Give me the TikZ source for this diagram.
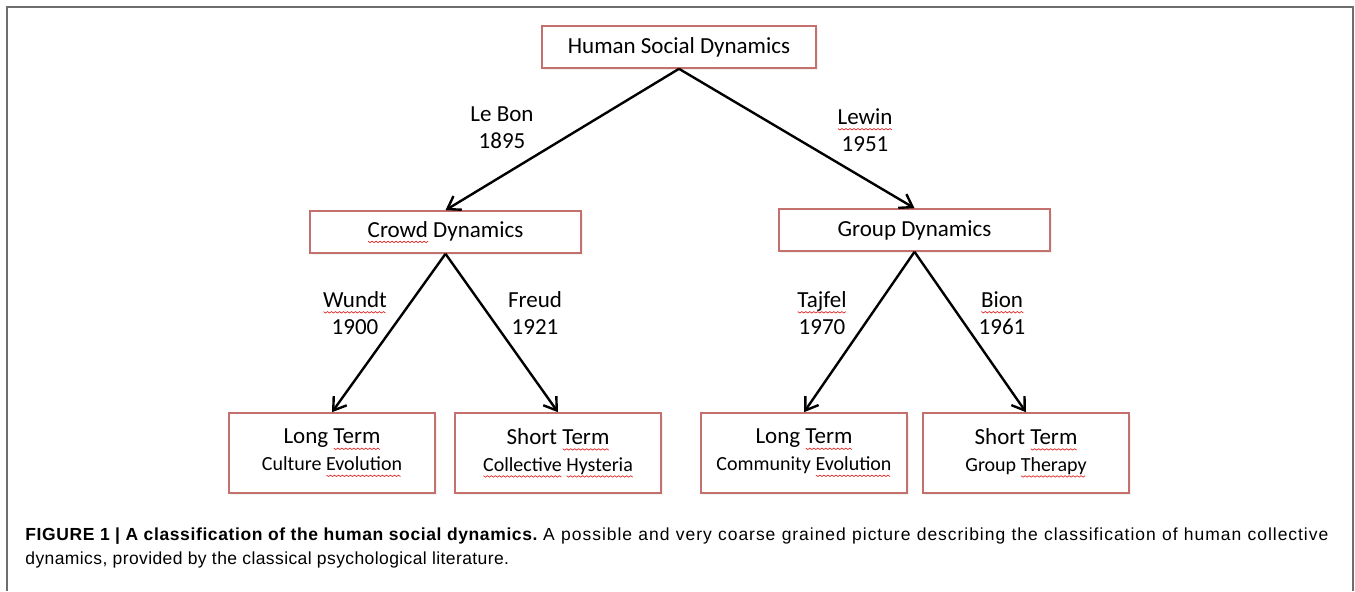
\documentclass[tikz,border=0pt]{standalone}
\usepackage{fontspec}
\setmainfont{Carlito}
\newfontfamily\capfont{Liberation Sans}[LetterSpace=2.3]
\usetikzlibrary{arrows.meta,shadows}
\definecolor{boxred}{RGB}{196,112,108}
\definecolor{framegray}{RGB}{110,110,110}
\definecolor{spellred}{RGB}{225,40,40}
% red wavy line under a word
\newsavebox\sqbox
\newcount\sqn
\newcount\sqi
\newcommand\sq[1]{\sbox\sqbox{#1}\leavevmode\rlap{\pgfpicture\pgfsetbaseline{0pt}%
    \pgfsetcolor{spellred}\pgfsetlinewidth{0.35pt}%
    \sqn=\wd\sqbox \divide\sqn by 65536 \sqi=0
    \pgfpathmoveto{\pgfpoint{0pt}{-2.1pt}}%
    \loop\ifnum\sqi<\sqn \advance\sqi by 1
        \ifodd\sqi \pgfpathlineto{\pgfpoint{\the\sqi pt}{-2.8pt}}\else \pgfpathlineto{\pgfpoint{\the\sqi pt}{-2.1pt}}\fi
    \repeat
    \pgfusepath{stroke}\endpgfpicture}\usebox\sqbox}
\newcommand\subfont{\fontsize{10}{12.5}\selectfont}
\begin{document}
\begin{tikzpicture}[x=0.5pt,y=-0.5pt,
        box/.style={draw=boxred,line width=0.8pt,fill=white,minimum width=135.5pt,minimum height=21pt,
            inner sep=0pt,font=\fontsize{11.5}{13.5}\selectfont,drop shadow={opacity=0.12,shadow xshift=1pt,shadow yshift=-1pt}},
        leaf/.style={box,minimum width=103pt,minimum height=40pt,align=center},
        who/.style={align=center,font=\fontsize{11.5}{13.5}\selectfont},
        link/.style={-{Straight Barb[length=6pt,width=8pt]},line width=1.2pt}]
        \useasboundingbox (0,0) rectangle (1355,591);
        \draw[framegray,line width=1pt] (7,591) |- (1353,7) -- (1353,591);

        \node[box,minimum width=137pt] (hsd) at (679,47) {Human Social Dynamics};
        \node[box] (crowd) at (445.5,232) {\sq{Crowd} Dynamics};
        \node[box] (group) at (914.5,230) {Group Dynamics};

        \foreach \n/\x/\kind/\what in {lt1/332/Long/Culture \sq{Evolution},st1/558/Short/\sq{Collective} \sq{Hysteria},
                lt2/804/Long/Community \sq{Evolution},st2/1026/Short/Group \sq{Therapy}}
            {\node[leaf] (\n) at (\x,453) {\kind\ \sq{Term}\\{\subfont\what}};}

        \draw[link] (hsd.south) -- (crowd.north);
        \draw[link] (hsd.south) -- (group.north);
        \foreach \a/\b in {crowd/lt1,crowd/st1,group/lt2,group/st2}
            {\draw[link] (\a.south) -- (\b.north);}

        \node[who] (lebon) at (502,128) {Le Bon\\1895};
        \node[who] (lewin) at (865,130) {\sq{Lewin}\\1951};
        \node[who] (wundt) at (355,313) {\sq{Wundt}\\1900};
        \node[who] (freud) at (535,313) {Freud\\1921};
        \node[who] (tajfel) at (822,313) {\sq{Tajfel}\\1970};
        \node[who] (bion) at (1002,313) {\sq{Bion}\\1961};

        \node[anchor=north west,align=left,inner sep=0pt,font=\capfont\fontsize{8.75}{12}\selectfont] (caption) at (25,527)
            {\hbox to 651.5pt{\mbox{\bfseries\addfontfeature{LetterSpace=3.5}FIGURE 1 | A classification of the human social dynamics.} {\addfontfeature{LetterSpace=5.5}A possible and very coarse grained picture describing the classification of human collective}}\\dynamics, provided by the classical psychological literature.};
    \end{tikzpicture}
\end{document}
